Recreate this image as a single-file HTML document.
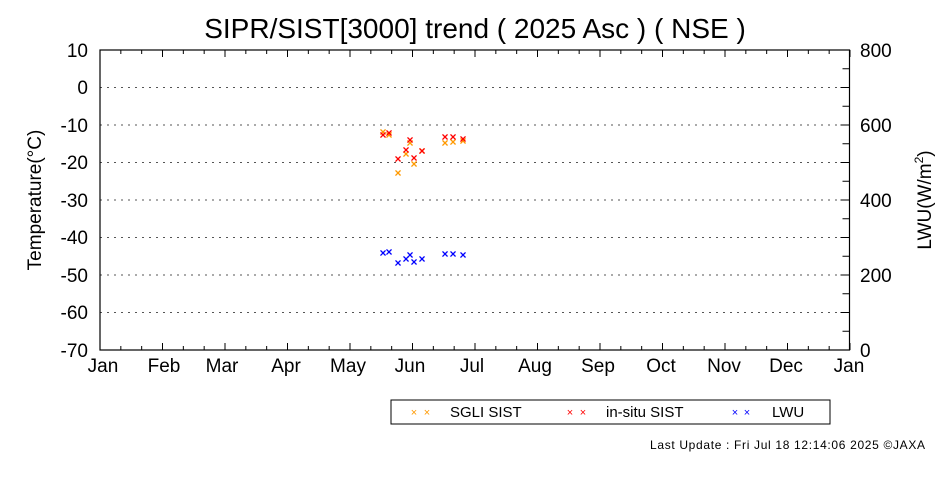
<!DOCTYPE html>
<html><head><meta charset="utf-8"><style>
html,body{margin:0;padding:0;background:#fff;}
svg{display:block;font-family:"Liberation Sans",Arial,sans-serif;}
</style></head><body>
<svg id="s" width="950" height="480" viewBox="0 0 950 480" xmlns="http://www.w3.org/2000/svg">
<rect width="950" height="480" fill="#fff"/>
<text x="475" y="38" font-size="28" text-anchor="middle">SIPR/SIST[3000] trend ( 2025 Asc ) ( NSE )</text>
<g stroke="#555" stroke-width="1" stroke-dasharray="2,5">
<line x1="100" x2="850" y1="87.5" y2="87.5"/>
<line x1="100" x2="850" y1="125" y2="125"/>
<line x1="100" x2="850" y1="162.5" y2="162.5"/>
<line x1="100" x2="850" y1="200" y2="200"/>
<line x1="100" x2="850" y1="237.5" y2="237.5"/>
<line x1="100" x2="850" y1="275" y2="275"/>
<line x1="100" x2="850" y1="312.5" y2="312.5"/>
</g>
<g id="ticks" stroke="#000" stroke-width="1"></g>
<rect x="100" y="50" width="749.5" height="300" fill="none" stroke="#000" stroke-width="1.2"/>
<g font-size="19" text-anchor="end">
<text x="88" y="57">10</text><text x="88" y="94">0</text><text x="88" y="132">-10</text>
<text x="88" y="169">-20</text><text x="88" y="207">-30</text><text x="88" y="244">-40</text>
<text x="88" y="282">-50</text><text x="88" y="319">-60</text><text x="88" y="357">-70</text>
</g>
<g font-size="19">
<text x="860" y="57">800</text><text x="860" y="132">600</text><text x="860" y="207">400</text>
<text x="860" y="282">200</text><text x="860" y="357">0</text>
</g>
<g font-size="19" text-anchor="middle">
<text x="103" y="372">Jan</text><text x="164" y="372">Feb</text><text x="222" y="372">Mar</text>
<text x="286" y="372">Apr</text><text x="348" y="372">May</text><text x="410" y="372">Jun</text>
<text x="472" y="372">Jul</text><text x="535" y="372">Aug</text><text x="598" y="372">Sep</text>
<text x="661" y="372">Oct</text><text x="724" y="372">Nov</text><text x="786" y="372">Dec</text>
<text x="849" y="372">Jan</text>
</g>
<text transform="translate(41,200) rotate(-90)" font-size="19" text-anchor="middle">Temperature(°C)</text>
<text transform="translate(931,200) rotate(-90)" font-size="19" text-anchor="middle">LWU(W/m<tspan font-size="12" dy="-8">2</tspan><tspan dy="8">)</tspan></text>
<g id="pts" font-size="12" font-weight="bold" text-anchor="middle"></g>
<rect x="391" y="400" width="439" height="24" fill="none" stroke="#000" stroke-width="1"/>
<g font-size="11" text-anchor="middle">
<text x="414" y="416" fill="#f90">×</text><text x="427" y="416" fill="#f90">×</text>
<text x="570" y="416" fill="#f00">×</text><text x="583" y="416" fill="#f00">×</text>
<text x="735" y="416" fill="#00f">×</text><text x="747" y="416" fill="#00f">×</text>
</g>
<g font-size="15">
<text x="450" y="417">SGLI SIST</text><text x="606" y="417">in-situ SIST</text><text x="772" y="417">LWU</text>
</g>
<text x="650" y="449" font-size="12" textLength="275" lengthAdjust="spacing">Last Update : Fri Jul 18 12:14:06 2025  ©JAXA</text>
</svg>
<script>
var t=document.getElementById('ticks'),h='';
for(var i=0;i<=36;i++){var x=100+i*750/36,L=(i%3==0)?7:4;
h+='<line x1="'+x+'" x2="'+x+'" y1="50" y2="'+(50+L)+'"/><line x1="'+x+'" x2="'+x+'" y1="350" y2="'+(350-L)+'"/>';}
for(var j=0;j<=16;j++){var y=50+j*18.75,L=(j%2==0)?9:7;
h+='<line x1="'+(849.5-L)+'" x2="849.5" y1="'+y+'" y2="'+y+'"/>';}
t.innerHTML=h;
var o=[[383,132],[389,135],[410,143],[406,154],[398,173],[414,164],[422,151],[445,143],[453,142],[463,141]];
var r=[[383,135],[389,133],[410,140],[406,150],[398,159],[414,158],[422,151],[445,137],[453,137],[463,139]];
var b=[[383,253],[389,252],[398,263],[406,259],[410,255],[414,262],[422,259],[445,254],[453,254],[463,255]];
var p='';
function add(a,c){a.forEach(function(q){p+='<text x="'+q[0]+'" y="'+(q[1]+4)+'" fill="'+c+'">×</text>';});}
add(o,'#f90');add(r,'#f00');add(b,'#00f');
document.getElementById('pts').innerHTML=p;
</script>
</body></html>
